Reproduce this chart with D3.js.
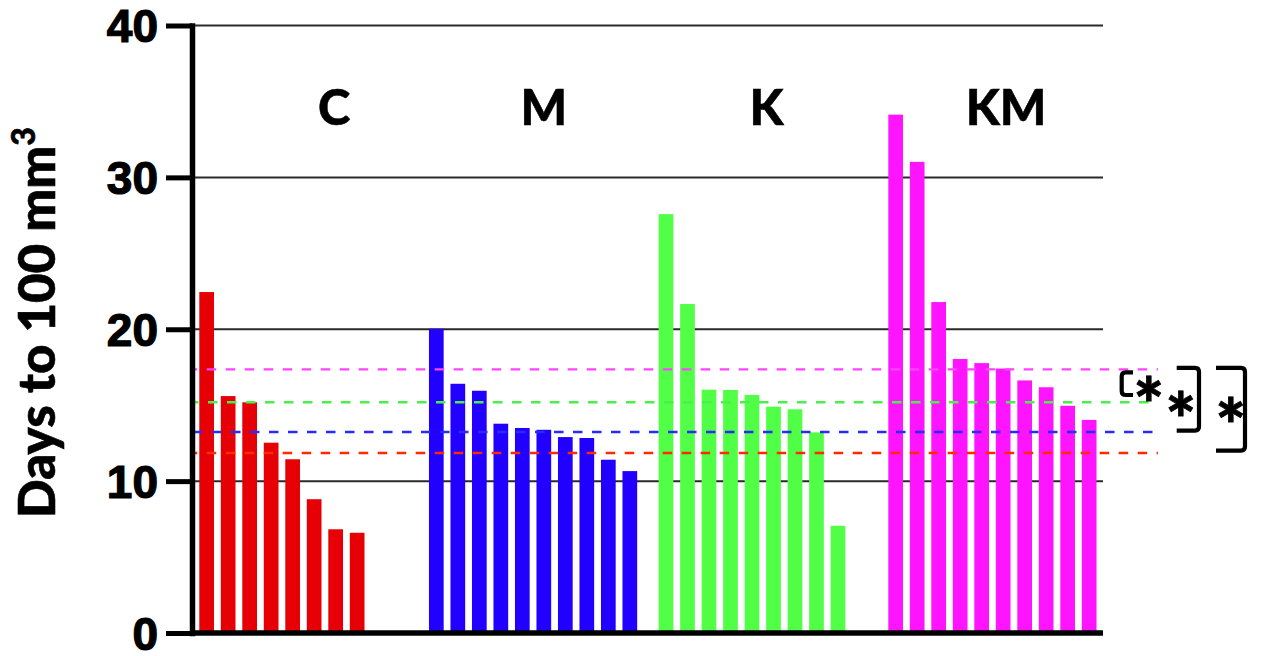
<!DOCTYPE html>
<html>
<head>
<meta charset="utf-8">
<script src="https://cdn.jsdelivr.net/npm/d3@7/dist/d3.min.js"></script>
<style>
  html, body { margin: 0; padding: 0; background: #fff; }
  svg { display: block; }
</style>
</head>
<body>
<svg id="chart" width="1261" height="656"></svg>
<script>
// Treatment groups and per-animal days to reach 100 mm³ (sorted high to low)
const groups = ["C", "M", "K", "KM"];
const daysC  = [22.45, 15.60, 15.19, 12.53, 11.44, 8.81, 6.83, 6.60];
const daysM  = [20.03, 16.41, 15.95, 13.78, 13.50, 13.38, 12.90, 12.84, 11.41, 10.66];
const daysK  = [27.58, 21.66, 16.02, 16.00, 15.67, 14.90, 14.73, 13.21, 7.06];
const daysKM = [34.13, 31.02, 21.79, 18.04, 17.77, 17.41, 16.63, 16.18, 14.96, 14.03];
// Group reference levels (dashed lines)
const groupLevels = [11.85, 13.23, 15.19, 17.36];
const groupColors = ["#e60005", "#2200ff", "#52ff47", "#ff14ff"];
const levelColors = ["#ff2a00", "#2a2aff", "#48f048", "#ff44ff"];
const yTicks = [0, 10, 20, 30, 40];
// Significance brackets: span in data units and its mark
const bracketTop    = [17.16, 17.46, 17.46];
const bracketBottom = [15.67, 13.33, 12.01];
const bracketMarks  = ["*", "*", "*"];

const seriesByGroup = [daysC, daysM, daysK, daysKM];

const svg = d3.select("#chart");

const y = d3.scaleLinear().domain([0, 40]).range([633, 25.5]);
const xGroup = d3.scaleBand().domain(groups).range([199.3, 199.3 + 4 * 229.67]).padding(0);
const xBar = d3.scaleBand().domain(d3.range(10)).range([0, 208.2]).paddingInner(0.316).paddingOuter(0);

const axisX = 192;
const plotRight = 1103;

// Horizontal grid lines (behind the bars)
svg.append("g")
  .selectAll("line")
  .data(yTicks.filter(d => d > 0))
  .join("line")
  .attr("x1", axisX).attr("x2", plotRight)
  .attr("y1", d => y(d)).attr("y2", d => y(d))
  .attr("stroke", "#2a2a2a").attr("stroke-width", 2);

// Bars
const barData = [];
seriesByGroup.forEach((vals, gi) => {
  vals.forEach((v, i) => barData.push({ group: groups[gi], gi, i, v }));
});
svg.append("g")
  .selectAll("rect")
  .data(barData)
  .join("rect")
  .attr("x", d => xGroup(d.group) + xBar(d.i))
  .attr("width", xBar.bandwidth())
  .attr("y", d => y(d.v))
  .attr("height", d => y(0) - y(d.v))
  .attr("fill", d => groupColors[d.gi]);

// Group reference dashed lines (over the bars)
const dashPhase = [5.3, 0, 4, 5.3];
svg.append("g")
  .selectAll("line")
  .data(groupLevels)
  .join("line")
  .attr("x1", axisX + 1).attr("x2", 1158)
  .attr("y1", d => y(d)).attr("y2", d => y(d))
  .attr("stroke", (d, i) => levelColors[i])
  .attr("stroke-width", 2.4)
  .attr("stroke-dasharray", "9.5,9.5")
  .attr("stroke-dashoffset", (d, i) => dashPhase[i]);

// Y axis
const yAxis = d3.axisLeft(y).tickValues(yTicks).tickSize(26).tickSizeOuter(0).tickPadding(8);
const gy = svg.append("g").attr("transform", `translate(${axisX},0)`).call(yAxis);
gy.select(".domain").attr("stroke", "#000").attr("stroke-width", 5.5).attr("stroke-linecap", "square");
gy.selectAll(".tick line").attr("stroke", "#000").attr("stroke-width", 5);
gy.selectAll(".tick text")
  .attr("fill", "#000")
  .attr("stroke", "#000")
  .attr("stroke-width", 1.2)
  .attr("font-family", "'Liberation Sans', Arial, sans-serif")
  .attr("font-weight", "bold")
  .attr("font-size", 46)
  .attr("dy", "0.35em");

// Baseline
svg.append("line")
  .attr("x1", axisX - 2).attr("x2", plotRight)
  .attr("y1", y(0)).attr("y2", y(0))
  .attr("stroke", "#000").attr("stroke-width", 5.5);

// Y axis title
const title = svg.append("text")
  .attr("transform", `translate(55,322.5) rotate(-90)`)
  .attr("text-anchor", "middle")
  .attr("font-family", "Lato, 'Open Sans', sans-serif")
  .attr("font-weight", 900)
  .attr("font-size", 51)
  .attr("fill", "#000")
  .attr("stroke", "#000")
  .attr("stroke-width", 0.6);
title.append("tspan").text("Days to 100 mm");
title.append("tspan").attr("font-size", 32).attr("dy", -20).text("3");

// Group labels
const labelShift = [20, 0, -7, 3];
svg.append("g")
  .selectAll("text")
  .data(groups)
  .join("text")
  .attr("x", (d, i) => xGroup(d) + xGroup.bandwidth() / 2 + labelShift[i])
  .attr("y", 125)
  .attr("text-anchor", "middle")
  .attr("font-family", "Lato, 'Open Sans', sans-serif")
  .attr("font-weight", 900)
  .attr("font-size", 49)
  .attr("fill", "#000")
  .attr("stroke", "#000")
  .attr("stroke-width", 0.5)
  .text(d => d);

// Significance brackets with softened corners
const bracketSpecs = [
  { x0: 1133, x1: 1121.7, starX: 1149 },
  { x0: 1176.7, x1: 1199, starX: 1181 },
  { x0: 1216, x1: 1245, starX: 1231 }
];
const starCenterY = [388, 402.5, 409];
const gB = svg.append("g");
bracketSpecs.forEach((b, i) => {
  const yt = y(bracketTop[i]), yb = y(bracketBottom[i]);
  const r = 4, s = Math.sign(b.x1 - b.x0);
  const p = d3.path();
  p.moveTo(b.x0, yt);
  p.lineTo(b.x1 - s * r, yt);
  p.quadraticCurveTo(b.x1, yt, b.x1, yt + r);
  p.lineTo(b.x1, yb - r);
  p.quadraticCurveTo(b.x1, yb, b.x1 - s * r, yb);
  p.lineTo(b.x0, yb);
  gB.append("path")
    .attr("d", p.toString())
    .attr("fill", "none")
    .attr("stroke", "#000")
    .attr("stroke-width", 4.2);
});

// Place asterisks by their ink box so they sit centred on the bracket marks
const starSize = 72;
const starFont = `900 ${starSize}px Lato`;
const ctx = document.createElement("canvas").getContext("2d");
function placeStars() {
  ctx.font = starFont;
  const m = ctx.measureText("*");
  const inkCx = (m.actualBoundingBoxRight - m.actualBoundingBoxLeft) / 2;
  const inkCy = (m.actualBoundingBoxDescent - m.actualBoundingBoxAscent) / 2;
  gB.selectAll("text.star")
    .data(bracketMarks)
    .join("text")
    .attr("class", "star")
    .attr("x", (d, i) => bracketSpecs[i].starX - inkCx)
    .attr("y", (d, i) => starCenterY[i] - inkCy)
    .attr("font-family", "Lato")
    .attr("font-weight", 900)
    .attr("font-size", starSize)
    .attr("fill", "#000")
    .attr("stroke", "#000")
    .attr("stroke-width", 0.8)
    .text(d => d);
}
if (document.fonts && document.fonts.load) {
  document.fonts.load(starFont).then(placeStars, placeStars);
}
placeStars();
</script>
</body>
</html>
